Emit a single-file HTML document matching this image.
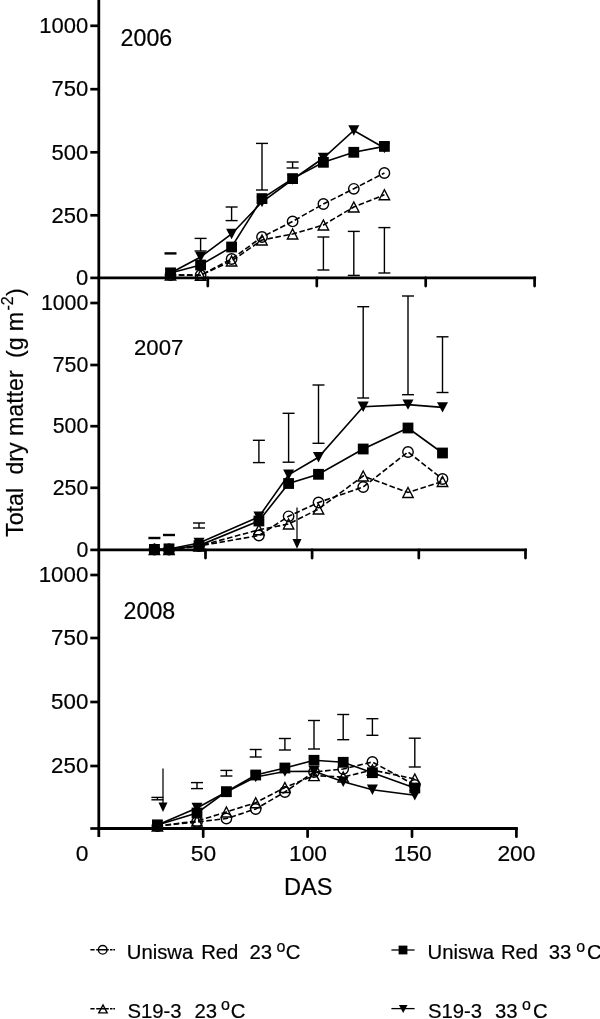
<!DOCTYPE html>
<html lang="en">
<head>
<meta charset="utf-8">
<title>Total dry matter vs DAS</title>
<style>
html,body{margin:0;padding:0;background:#fff;}
body{width:600px;height:1019px;overflow:hidden;}
svg{display:block;}
svg text{font-family:"Liberation Sans", Arial, Helvetica, sans-serif;fill:#000;stroke:#000;stroke-width:0.2px;}
</style>
</head>
<body>
<svg width="600" height="1019" viewBox="0 0 600 1019">
<rect x="0" y="0" width="600" height="1019" fill="#fff"/>
<line x1="98.8" y1="0.0" x2="98.8" y2="837.0" stroke="#000" stroke-width="2.8" />
<line x1="97.8" y1="277.9" x2="536.1" y2="277.9" stroke="#000" stroke-width="2.8" />
<line x1="207.8" y1="277.9" x2="207.8" y2="286.1" stroke="#000" stroke-width="2.7" stroke-linecap="round"/>
<line x1="316.8" y1="277.9" x2="316.8" y2="286.1" stroke="#000" stroke-width="2.7" stroke-linecap="round"/>
<line x1="425.7" y1="277.9" x2="425.7" y2="286.1" stroke="#000" stroke-width="2.7" stroke-linecap="round"/>
<line x1="534.6" y1="277.9" x2="534.6" y2="286.1" stroke="#000" stroke-width="2.7" stroke-linecap="round"/>
<line x1="90.3" y1="25.8" x2="98.8" y2="25.8" stroke="#000" stroke-width="2.7" />
<text x="88.3" y="33.0" font-size="22.0" text-anchor="end" >1000</text>
<line x1="90.3" y1="89.2" x2="98.8" y2="89.2" stroke="#000" stroke-width="2.7" />
<text x="88.3" y="96.4" font-size="22.0" text-anchor="end" >750</text>
<line x1="90.3" y1="152.3" x2="98.8" y2="152.3" stroke="#000" stroke-width="2.7" />
<text x="88.3" y="159.5" font-size="22.0" text-anchor="end" >500</text>
<line x1="90.3" y1="215.3" x2="98.8" y2="215.3" stroke="#000" stroke-width="2.7" />
<text x="88.3" y="222.5" font-size="22.0" text-anchor="end" >250</text>
<line x1="90.3" y1="277.9" x2="98.8" y2="277.9" stroke="#000" stroke-width="2.7" />
<text x="88.3" y="285.1" font-size="22.0" text-anchor="end" >0</text>
<line x1="97.8" y1="549.9" x2="526.9" y2="549.9" stroke="#000" stroke-width="2.8" />
<line x1="205.5" y1="549.9" x2="205.5" y2="558.1" stroke="#000" stroke-width="2.7" stroke-linecap="round"/>
<line x1="312.1" y1="549.9" x2="312.1" y2="558.1" stroke="#000" stroke-width="2.7" stroke-linecap="round"/>
<line x1="418.8" y1="549.9" x2="418.8" y2="558.1" stroke="#000" stroke-width="2.7" stroke-linecap="round"/>
<line x1="525.5" y1="549.9" x2="525.5" y2="558.1" stroke="#000" stroke-width="2.7" stroke-linecap="round"/>
<line x1="90.3" y1="303.0" x2="98.8" y2="303.0" stroke="#000" stroke-width="2.7" />
<text x="88.3" y="309.9" font-size="21.3" text-anchor="end" >1000</text>
<line x1="90.3" y1="365.0" x2="98.8" y2="365.0" stroke="#000" stroke-width="2.7" />
<text x="88.3" y="371.9" font-size="21.3" text-anchor="end" >750</text>
<line x1="90.3" y1="426.2" x2="98.8" y2="426.2" stroke="#000" stroke-width="2.7" />
<text x="88.3" y="433.1" font-size="21.3" text-anchor="end" >500</text>
<line x1="90.3" y1="487.8" x2="98.8" y2="487.8" stroke="#000" stroke-width="2.7" />
<text x="88.3" y="494.7" font-size="21.3" text-anchor="end" >250</text>
<line x1="90.3" y1="549.9" x2="98.8" y2="549.9" stroke="#000" stroke-width="2.7" />
<text x="88.3" y="556.8" font-size="21.3" text-anchor="end" >0</text>
<line x1="97.8" y1="828.5" x2="517.8" y2="828.5" stroke="#000" stroke-width="2.8" />
<line x1="203.2" y1="828.5" x2="203.2" y2="836.7" stroke="#000" stroke-width="2.7" stroke-linecap="round"/>
<line x1="307.6" y1="828.5" x2="307.6" y2="836.7" stroke="#000" stroke-width="2.7" stroke-linecap="round"/>
<line x1="412.0" y1="828.5" x2="412.0" y2="836.7" stroke="#000" stroke-width="2.7" stroke-linecap="round"/>
<line x1="516.4" y1="828.5" x2="516.4" y2="836.7" stroke="#000" stroke-width="2.7" stroke-linecap="round"/>
<line x1="90.3" y1="575.0" x2="98.8" y2="575.0" stroke="#000" stroke-width="2.7" />
<text x="88.3" y="582.3" font-size="22.3" text-anchor="end" >1000</text>
<line x1="90.3" y1="638.0" x2="98.8" y2="638.0" stroke="#000" stroke-width="2.7" />
<text x="88.3" y="645.3" font-size="22.3" text-anchor="end" >750</text>
<line x1="90.3" y1="702.0" x2="98.8" y2="702.0" stroke="#000" stroke-width="2.7" />
<text x="88.3" y="709.3" font-size="22.3" text-anchor="end" >500</text>
<line x1="90.3" y1="766.0" x2="98.8" y2="766.0" stroke="#000" stroke-width="2.7" />
<text x="88.3" y="773.3" font-size="22.3" text-anchor="end" >250</text>
<line x1="90.3" y1="828.5" x2="98.8" y2="828.5" stroke="#000" stroke-width="2.7" />
<text x="82.0" y="860.9" font-size="22.8" text-anchor="middle" >0</text>
<text x="203.4" y="860.9" font-size="22.8" text-anchor="middle" >50</text>
<text x="308.0" y="860.9" font-size="22.8" text-anchor="middle" >100</text>
<text x="412.8" y="860.9" font-size="22.8" text-anchor="middle" >150</text>
<text x="516.4" y="860.9" font-size="22.8" text-anchor="middle" >200</text>
<text x="308.2" y="895.2" font-size="23.6" text-anchor="middle" >DAS</text>
<text x="120.6" y="46.4" font-size="23.2" text-anchor="start" >2006</text>
<text x="134.0" y="355.0" font-size="22.2" text-anchor="start" >2007</text>
<text x="123.6" y="619.4" font-size="23.2" text-anchor="start" >2008</text>
<g transform="translate(22.5,536.4) rotate(-90)" font-size="23.2">
<text x="-0.5" y="0">Total</text>
<text x="61.8" y="0">dry</text>
<text x="100.4" y="0">matter</text>
<text x="178.4" y="0">(g</text>
<text x="205.2" y="0">m</text>
<text x="225.9" y="-9.8" font-size="16">-2</text>
<text x="240.5" y="0">)</text>
</g>
<line x1="164.5" y1="253.4" x2="176.5" y2="253.4" stroke="#000" stroke-width="2.4" />
<line x1="200.6" y1="238.4" x2="200.6" y2="251.0" stroke="#000" stroke-width="1.4" />
<line x1="194.6" y1="238.4" x2="206.6" y2="238.4" stroke="#000" stroke-width="1.4" />
<line x1="194.6" y1="251.0" x2="206.6" y2="251.0" stroke="#000" stroke-width="1.4" />
<line x1="231.6" y1="207.0" x2="231.6" y2="220.6" stroke="#000" stroke-width="1.4" />
<line x1="225.6" y1="207.0" x2="237.6" y2="207.0" stroke="#000" stroke-width="1.4" />
<line x1="225.6" y1="220.6" x2="237.6" y2="220.6" stroke="#000" stroke-width="1.4" />
<line x1="262.0" y1="143.4" x2="262.0" y2="190.0" stroke="#000" stroke-width="1.4" />
<line x1="256.0" y1="143.4" x2="268.0" y2="143.4" stroke="#000" stroke-width="1.4" />
<line x1="256.0" y1="190.0" x2="268.0" y2="190.0" stroke="#000" stroke-width="1.4" />
<line x1="292.6" y1="162.0" x2="292.6" y2="168.0" stroke="#000" stroke-width="1.4" />
<line x1="286.6" y1="162.0" x2="298.6" y2="162.0" stroke="#000" stroke-width="1.4" />
<line x1="286.6" y1="168.0" x2="298.6" y2="168.0" stroke="#000" stroke-width="1.4" />
<line x1="323.4" y1="237.0" x2="323.4" y2="270.0" stroke="#000" stroke-width="1.4" />
<line x1="317.4" y1="237.0" x2="329.4" y2="237.0" stroke="#000" stroke-width="1.4" />
<line x1="317.4" y1="270.0" x2="329.4" y2="270.0" stroke="#000" stroke-width="1.4" />
<line x1="353.8" y1="231.4" x2="353.8" y2="275.4" stroke="#000" stroke-width="1.4" />
<line x1="347.8" y1="231.4" x2="359.8" y2="231.4" stroke="#000" stroke-width="1.4" />
<line x1="347.8" y1="275.4" x2="359.8" y2="275.4" stroke="#000" stroke-width="1.4" />
<line x1="384.4" y1="227.6" x2="384.4" y2="273.0" stroke="#000" stroke-width="1.4" />
<line x1="378.4" y1="227.6" x2="390.4" y2="227.6" stroke="#000" stroke-width="1.4" />
<line x1="378.4" y1="273.0" x2="390.4" y2="273.0" stroke="#000" stroke-width="1.4" />
<polyline points="170.5,275.0 200.6,275.2 231.6,259.0 262.0,237.0 292.6,221.4 323.4,204.0 353.8,188.8 384.4,173.0" fill="none" stroke="#000" stroke-width="1.6" stroke-dasharray="5.6 2.6"/>
<polyline points="170.5,275.0 200.6,275.2 231.6,261.0 262.0,240.0 292.6,234.0 323.4,225.0 353.8,207.0 384.4,194.8" fill="none" stroke="#000" stroke-width="1.6" stroke-dasharray="5.6 2.6"/>
<polyline points="170.5,273.0 200.6,257.0 231.6,234.0 262.0,202.0 292.6,179.5 323.4,158.0 353.8,130.5 384.4,148.0" fill="none" stroke="#000" stroke-width="1.6" />
<polyline points="170.5,273.0 200.6,265.0 231.6,247.0 262.0,198.6 292.6,178.6 323.4,162.3 353.8,152.3 384.4,146.4" fill="none" stroke="#000" stroke-width="1.6" />
<circle cx="170.5" cy="275.0" r="5.2" fill="none" stroke="#000" stroke-width="1.4"/>
<circle cx="200.6" cy="275.2" r="5.2" fill="none" stroke="#000" stroke-width="1.4"/>
<circle cx="231.6" cy="259.0" r="5.2" fill="none" stroke="#000" stroke-width="1.4"/>
<circle cx="262.0" cy="237.0" r="5.2" fill="none" stroke="#000" stroke-width="1.4"/>
<circle cx="292.6" cy="221.4" r="5.2" fill="none" stroke="#000" stroke-width="1.4"/>
<circle cx="323.4" cy="204.0" r="5.2" fill="none" stroke="#000" stroke-width="1.4"/>
<circle cx="353.8" cy="188.8" r="5.2" fill="none" stroke="#000" stroke-width="1.4"/>
<circle cx="384.4" cy="173.0" r="5.2" fill="none" stroke="#000" stroke-width="1.4"/>
<polygon points="165.3,280.0 175.7,280.0 170.5,270.0" fill="none" stroke="#000" stroke-width="1.4" stroke-linejoin="miter"/>
<polygon points="195.4,280.2 205.8,280.2 200.6,270.2" fill="none" stroke="#000" stroke-width="1.4" stroke-linejoin="miter"/>
<polygon points="226.4,266.0 236.8,266.0 231.6,256.0" fill="none" stroke="#000" stroke-width="1.4" stroke-linejoin="miter"/>
<polygon points="256.8,245.0 267.2,245.0 262.0,235.0" fill="none" stroke="#000" stroke-width="1.4" stroke-linejoin="miter"/>
<polygon points="287.4,239.0 297.8,239.0 292.6,229.0" fill="none" stroke="#000" stroke-width="1.4" stroke-linejoin="miter"/>
<polygon points="318.2,230.0 328.6,230.0 323.4,220.0" fill="none" stroke="#000" stroke-width="1.4" stroke-linejoin="miter"/>
<polygon points="348.6,212.0 359.0,212.0 353.8,202.0" fill="none" stroke="#000" stroke-width="1.4" stroke-linejoin="miter"/>
<polygon points="379.2,199.8 389.6,199.8 384.4,189.8" fill="none" stroke="#000" stroke-width="1.4" stroke-linejoin="miter"/>
<polygon points="165.0,267.8 176.0,267.8 170.5,278.2" fill="#000"/>
<polygon points="195.1,251.8 206.1,251.8 200.6,262.2" fill="#000"/>
<polygon points="226.1,228.8 237.1,228.8 231.6,239.2" fill="#000"/>
<polygon points="256.5,196.8 267.5,196.8 262.0,207.2" fill="#000"/>
<polygon points="287.1,174.3 298.1,174.3 292.6,184.7" fill="#000"/>
<polygon points="317.9,152.8 328.9,152.8 323.4,163.2" fill="#000"/>
<polygon points="348.3,125.3 359.3,125.3 353.8,135.7" fill="#000"/>
<polygon points="378.9,142.8 389.9,142.8 384.4,153.2" fill="#000"/>
<rect x="165.1" y="267.6" width="10.8" height="10.8" fill="#000"/>
<rect x="195.2" y="259.6" width="10.8" height="10.8" fill="#000"/>
<rect x="226.2" y="241.6" width="10.8" height="10.8" fill="#000"/>
<rect x="256.6" y="193.2" width="10.8" height="10.8" fill="#000"/>
<rect x="287.2" y="173.2" width="10.8" height="10.8" fill="#000"/>
<rect x="318.0" y="156.9" width="10.8" height="10.8" fill="#000"/>
<rect x="348.4" y="146.9" width="10.8" height="10.8" fill="#000"/>
<rect x="379.0" y="141.0" width="10.8" height="10.8" fill="#000"/>
<line x1="148.4" y1="538.0" x2="160.4" y2="538.0" stroke="#000" stroke-width="2.4" />
<line x1="163.0" y1="535.0" x2="175.0" y2="535.0" stroke="#000" stroke-width="2.4" />
<line x1="199.0" y1="523.0" x2="199.0" y2="528.0" stroke="#000" stroke-width="1.4" />
<line x1="193.0" y1="523.0" x2="205.0" y2="523.0" stroke="#000" stroke-width="1.4" />
<line x1="193.0" y1="528.0" x2="205.0" y2="528.0" stroke="#000" stroke-width="1.4" />
<line x1="258.9" y1="440.3" x2="258.9" y2="462.6" stroke="#000" stroke-width="1.4" />
<line x1="252.9" y1="440.3" x2="264.9" y2="440.3" stroke="#000" stroke-width="1.4" />
<line x1="252.9" y1="462.6" x2="264.9" y2="462.6" stroke="#000" stroke-width="1.4" />
<line x1="288.6" y1="413.3" x2="288.6" y2="462.2" stroke="#000" stroke-width="1.4" />
<line x1="282.6" y1="413.3" x2="294.6" y2="413.3" stroke="#000" stroke-width="1.4" />
<line x1="282.6" y1="462.2" x2="294.6" y2="462.2" stroke="#000" stroke-width="1.4" />
<line x1="318.5" y1="385.0" x2="318.5" y2="443.3" stroke="#000" stroke-width="1.4" />
<line x1="312.5" y1="385.0" x2="324.5" y2="385.0" stroke="#000" stroke-width="1.4" />
<line x1="312.5" y1="443.3" x2="324.5" y2="443.3" stroke="#000" stroke-width="1.4" />
<line x1="363.2" y1="306.7" x2="363.2" y2="398.0" stroke="#000" stroke-width="1.4" />
<line x1="357.2" y1="306.7" x2="369.2" y2="306.7" stroke="#000" stroke-width="1.4" />
<line x1="357.2" y1="398.0" x2="369.2" y2="398.0" stroke="#000" stroke-width="1.4" />
<line x1="408.0" y1="296.0" x2="408.0" y2="394.7" stroke="#000" stroke-width="1.4" />
<line x1="402.0" y1="296.0" x2="414.0" y2="296.0" stroke="#000" stroke-width="1.4" />
<line x1="402.0" y1="394.7" x2="414.0" y2="394.7" stroke="#000" stroke-width="1.4" />
<line x1="442.5" y1="336.8" x2="442.5" y2="392.5" stroke="#000" stroke-width="1.4" />
<line x1="436.5" y1="336.8" x2="448.5" y2="336.8" stroke="#000" stroke-width="1.4" />
<line x1="436.5" y1="392.5" x2="448.5" y2="392.5" stroke="#000" stroke-width="1.4" />
<polyline points="154.4,549.5 169.0,549.5 199.0,546.0 258.9,535.5 288.6,516.3 318.5,502.5 363.2,487.0 408.0,452.0 442.5,479.0" fill="none" stroke="#000" stroke-width="1.6" stroke-dasharray="5.6 2.6"/>
<polyline points="154.4,549.5 169.0,549.5 199.0,546.0 258.9,529.8 288.6,524.0 318.5,509.0 363.2,476.0 408.0,492.5 442.5,481.5" fill="none" stroke="#000" stroke-width="1.6" stroke-dasharray="5.6 2.6"/>
<polyline points="154.4,549.4 169.0,549.0 199.0,543.0 258.9,516.8 288.6,474.8 318.5,457.3 363.2,406.7 408.0,404.6 442.5,407.4" fill="none" stroke="#000" stroke-width="1.6" />
<polyline points="154.4,549.4 169.0,549.0 199.0,545.6 258.9,521.0 288.6,483.5 318.5,474.3 363.2,449.0 408.0,428.0 442.5,453.0" fill="none" stroke="#000" stroke-width="1.6" />
<circle cx="154.4" cy="549.5" r="5.2" fill="none" stroke="#000" stroke-width="1.4"/>
<circle cx="169.0" cy="549.5" r="5.2" fill="none" stroke="#000" stroke-width="1.4"/>
<circle cx="199.0" cy="546.0" r="5.2" fill="none" stroke="#000" stroke-width="1.4"/>
<circle cx="258.9" cy="535.5" r="5.2" fill="none" stroke="#000" stroke-width="1.4"/>
<circle cx="288.6" cy="516.3" r="5.2" fill="none" stroke="#000" stroke-width="1.4"/>
<circle cx="318.5" cy="502.5" r="5.2" fill="none" stroke="#000" stroke-width="1.4"/>
<circle cx="363.2" cy="487.0" r="5.2" fill="none" stroke="#000" stroke-width="1.4"/>
<circle cx="408.0" cy="452.0" r="5.2" fill="none" stroke="#000" stroke-width="1.4"/>
<circle cx="442.5" cy="479.0" r="5.2" fill="none" stroke="#000" stroke-width="1.4"/>
<polygon points="149.2,554.5 159.6,554.5 154.4,544.5" fill="none" stroke="#000" stroke-width="1.4" stroke-linejoin="miter"/>
<polygon points="163.8,554.5 174.2,554.5 169.0,544.5" fill="none" stroke="#000" stroke-width="1.4" stroke-linejoin="miter"/>
<polygon points="193.8,551.0 204.2,551.0 199.0,541.0" fill="none" stroke="#000" stroke-width="1.4" stroke-linejoin="miter"/>
<polygon points="253.7,534.8 264.1,534.8 258.9,524.8" fill="none" stroke="#000" stroke-width="1.4" stroke-linejoin="miter"/>
<polygon points="283.4,529.0 293.8,529.0 288.6,519.0" fill="none" stroke="#000" stroke-width="1.4" stroke-linejoin="miter"/>
<polygon points="313.3,514.0 323.7,514.0 318.5,504.0" fill="none" stroke="#000" stroke-width="1.4" stroke-linejoin="miter"/>
<polygon points="358.0,481.0 368.4,481.0 363.2,471.0" fill="none" stroke="#000" stroke-width="1.4" stroke-linejoin="miter"/>
<polygon points="402.8,497.5 413.2,497.5 408.0,487.5" fill="none" stroke="#000" stroke-width="1.4" stroke-linejoin="miter"/>
<polygon points="437.3,486.5 447.7,486.5 442.5,476.5" fill="none" stroke="#000" stroke-width="1.4" stroke-linejoin="miter"/>
<polygon points="148.9,544.2 159.9,544.2 154.4,554.6" fill="#000"/>
<polygon points="163.5,543.8 174.5,543.8 169.0,554.2" fill="#000"/>
<polygon points="193.5,537.8 204.5,537.8 199.0,548.2" fill="#000"/>
<polygon points="253.4,511.6 264.4,511.6 258.9,522.0" fill="#000"/>
<polygon points="283.1,469.6 294.1,469.6 288.6,480.0" fill="#000"/>
<polygon points="313.0,452.1 324.0,452.1 318.5,462.5" fill="#000"/>
<polygon points="357.7,401.5 368.7,401.5 363.2,411.9" fill="#000"/>
<polygon points="402.5,399.4 413.5,399.4 408.0,409.8" fill="#000"/>
<polygon points="437.0,402.2 448.0,402.2 442.5,412.6" fill="#000"/>
<rect x="149.0" y="544.0" width="10.8" height="10.8" fill="#000"/>
<rect x="163.6" y="543.6" width="10.8" height="10.8" fill="#000"/>
<rect x="193.6" y="540.2" width="10.8" height="10.8" fill="#000"/>
<rect x="253.5" y="515.6" width="10.8" height="10.8" fill="#000"/>
<rect x="283.2" y="478.1" width="10.8" height="10.8" fill="#000"/>
<rect x="313.1" y="468.9" width="10.8" height="10.8" fill="#000"/>
<rect x="357.8" y="443.6" width="10.8" height="10.8" fill="#000"/>
<rect x="402.6" y="422.6" width="10.8" height="10.8" fill="#000"/>
<rect x="437.1" y="447.6" width="10.8" height="10.8" fill="#000"/>
<line x1="157.4" y1="797.4" x2="157.4" y2="799.8" stroke="#000" stroke-width="1.4" />
<line x1="151.4" y1="797.4" x2="163.4" y2="797.4" stroke="#000" stroke-width="1.4" />
<line x1="151.4" y1="799.8" x2="163.4" y2="799.8" stroke="#000" stroke-width="1.4" />
<line x1="197.0" y1="782.6" x2="197.0" y2="788.6" stroke="#000" stroke-width="1.4" />
<line x1="191.0" y1="782.6" x2="203.0" y2="782.6" stroke="#000" stroke-width="1.4" />
<line x1="191.0" y1="788.6" x2="203.0" y2="788.6" stroke="#000" stroke-width="1.4" />
<line x1="226.4" y1="770.4" x2="226.4" y2="776.0" stroke="#000" stroke-width="1.4" />
<line x1="220.4" y1="770.4" x2="232.4" y2="770.4" stroke="#000" stroke-width="1.4" />
<line x1="220.4" y1="776.0" x2="232.4" y2="776.0" stroke="#000" stroke-width="1.4" />
<line x1="255.7" y1="749.5" x2="255.7" y2="757.0" stroke="#000" stroke-width="1.4" />
<line x1="249.7" y1="749.5" x2="261.7" y2="749.5" stroke="#000" stroke-width="1.4" />
<line x1="249.7" y1="757.0" x2="261.7" y2="757.0" stroke="#000" stroke-width="1.4" />
<line x1="284.9" y1="738.5" x2="284.9" y2="750.0" stroke="#000" stroke-width="1.4" />
<line x1="278.9" y1="738.5" x2="290.9" y2="738.5" stroke="#000" stroke-width="1.4" />
<line x1="278.9" y1="750.0" x2="290.9" y2="750.0" stroke="#000" stroke-width="1.4" />
<line x1="314.0" y1="720.5" x2="314.0" y2="749.0" stroke="#000" stroke-width="1.4" />
<line x1="308.0" y1="720.5" x2="320.0" y2="720.5" stroke="#000" stroke-width="1.4" />
<line x1="308.0" y1="749.0" x2="320.0" y2="749.0" stroke="#000" stroke-width="1.4" />
<line x1="343.2" y1="714.5" x2="343.2" y2="739.7" stroke="#000" stroke-width="1.4" />
<line x1="337.2" y1="714.5" x2="349.2" y2="714.5" stroke="#000" stroke-width="1.4" />
<line x1="337.2" y1="739.7" x2="349.2" y2="739.7" stroke="#000" stroke-width="1.4" />
<line x1="372.4" y1="718.7" x2="372.4" y2="735.3" stroke="#000" stroke-width="1.4" />
<line x1="366.4" y1="718.7" x2="378.4" y2="718.7" stroke="#000" stroke-width="1.4" />
<line x1="366.4" y1="735.3" x2="378.4" y2="735.3" stroke="#000" stroke-width="1.4" />
<line x1="414.8" y1="738.2" x2="414.8" y2="767.0" stroke="#000" stroke-width="1.4" />
<line x1="408.8" y1="738.2" x2="420.8" y2="738.2" stroke="#000" stroke-width="1.4" />
<line x1="408.8" y1="767.0" x2="420.8" y2="767.0" stroke="#000" stroke-width="1.4" />
<polyline points="157.4,826.0 197.0,822.0 226.4,818.5 255.7,809.0 284.9,792.0 314.0,772.0 343.2,769.0 372.4,762.0 414.8,785.0" fill="none" stroke="#000" stroke-width="1.6" stroke-dasharray="5.6 2.6"/>
<polyline points="157.4,826.0 197.0,821.0 226.4,812.0 255.7,802.7 284.9,787.5 314.0,775.6 343.2,777.0 372.4,770.0 414.8,779.0" fill="none" stroke="#000" stroke-width="1.6" stroke-dasharray="5.6 2.6"/>
<polyline points="157.4,825.0 197.0,808.0 226.4,792.0 255.7,777.0 284.9,771.5 314.0,771.3 343.2,781.7 372.4,789.8 414.8,795.2" fill="none" stroke="#000" stroke-width="1.6" />
<polyline points="157.4,825.0 197.0,813.0 226.4,791.7 255.7,775.0 284.9,768.0 314.0,760.3 343.2,762.3 372.4,772.7 414.8,788.0" fill="none" stroke="#000" stroke-width="1.6" />
<circle cx="157.4" cy="826.0" r="5.2" fill="none" stroke="#000" stroke-width="1.4"/>
<circle cx="197.0" cy="822.0" r="5.2" fill="none" stroke="#000" stroke-width="1.4"/>
<circle cx="226.4" cy="818.5" r="5.2" fill="none" stroke="#000" stroke-width="1.4"/>
<circle cx="255.7" cy="809.0" r="5.2" fill="none" stroke="#000" stroke-width="1.4"/>
<circle cx="284.9" cy="792.0" r="5.2" fill="none" stroke="#000" stroke-width="1.4"/>
<circle cx="314.0" cy="772.0" r="5.2" fill="none" stroke="#000" stroke-width="1.4"/>
<circle cx="343.2" cy="769.0" r="5.2" fill="none" stroke="#000" stroke-width="1.4"/>
<circle cx="372.4" cy="762.0" r="5.2" fill="none" stroke="#000" stroke-width="1.4"/>
<circle cx="414.8" cy="785.0" r="5.2" fill="none" stroke="#000" stroke-width="1.4"/>
<polygon points="152.2,831.0 162.6,831.0 157.4,821.0" fill="none" stroke="#000" stroke-width="1.4" stroke-linejoin="miter"/>
<polygon points="191.8,826.0 202.2,826.0 197.0,816.0" fill="none" stroke="#000" stroke-width="1.4" stroke-linejoin="miter"/>
<polygon points="221.2,817.0 231.6,817.0 226.4,807.0" fill="none" stroke="#000" stroke-width="1.4" stroke-linejoin="miter"/>
<polygon points="250.5,807.7 260.9,807.7 255.7,797.7" fill="none" stroke="#000" stroke-width="1.4" stroke-linejoin="miter"/>
<polygon points="279.7,792.5 290.1,792.5 284.9,782.5" fill="none" stroke="#000" stroke-width="1.4" stroke-linejoin="miter"/>
<polygon points="308.8,780.6 319.2,780.6 314.0,770.6" fill="none" stroke="#000" stroke-width="1.4" stroke-linejoin="miter"/>
<polygon points="338.0,782.0 348.4,782.0 343.2,772.0" fill="none" stroke="#000" stroke-width="1.4" stroke-linejoin="miter"/>
<polygon points="367.2,775.0 377.6,775.0 372.4,765.0" fill="none" stroke="#000" stroke-width="1.4" stroke-linejoin="miter"/>
<polygon points="409.6,784.0 420.0,784.0 414.8,774.0" fill="none" stroke="#000" stroke-width="1.4" stroke-linejoin="miter"/>
<polygon points="151.9,819.8 162.9,819.8 157.4,830.2" fill="#000"/>
<polygon points="191.5,802.8 202.5,802.8 197.0,813.2" fill="#000"/>
<polygon points="220.9,786.8 231.9,786.8 226.4,797.2" fill="#000"/>
<polygon points="250.2,771.8 261.2,771.8 255.7,782.2" fill="#000"/>
<polygon points="279.4,766.3 290.4,766.3 284.9,776.7" fill="#000"/>
<polygon points="308.5,766.1 319.5,766.1 314.0,776.5" fill="#000"/>
<polygon points="337.7,776.5 348.7,776.5 343.2,786.9" fill="#000"/>
<polygon points="366.9,784.6 377.9,784.6 372.4,795.0" fill="#000"/>
<polygon points="409.3,790.0 420.3,790.0 414.8,800.4" fill="#000"/>
<rect x="152.0" y="819.6" width="10.8" height="10.8" fill="#000"/>
<rect x="191.6" y="807.6" width="10.8" height="10.8" fill="#000"/>
<rect x="221.0" y="786.3" width="10.8" height="10.8" fill="#000"/>
<rect x="250.3" y="769.6" width="10.8" height="10.8" fill="#000"/>
<rect x="279.5" y="762.6" width="10.8" height="10.8" fill="#000"/>
<rect x="308.6" y="754.9" width="10.8" height="10.8" fill="#000"/>
<rect x="337.8" y="756.9" width="10.8" height="10.8" fill="#000"/>
<rect x="367.0" y="767.3" width="10.8" height="10.8" fill="#000"/>
<rect x="409.4" y="782.6" width="10.8" height="10.8" fill="#000"/>
<line x1="297.0" y1="507.5" x2="297.0" y2="540.1" stroke="#000" stroke-width="1.25" />
<polygon points="292.5,539.1 301.5,539.1 297.0,548.7" fill="#000"/>
<line x1="163.0" y1="768.6" x2="163.0" y2="803.4" stroke="#000" stroke-width="1.25" />
<polygon points="158.5,802.4 167.5,802.4 163.0,812.0" fill="#000"/>
<line x1="90.4" y1="949.8" x2="115.0" y2="949.8" stroke="#000" stroke-width="1.4" stroke-dasharray="4.2 1.6 12.6 1.2 2.5 0.8 1.7 0"/>
<circle cx="102.7" cy="949.8" r="4.3" fill="none" stroke="#000" stroke-width="1.4"/>
<text x="126.8" y="959.1" font-size="20.3" text-anchor="start" >Uniswa</text>
<text x="201.2" y="959.1" font-size="20.3" text-anchor="start" >Red</text>
<text x="249.4" y="959.1" font-size="20.3" text-anchor="start" >23</text>
<text x="276.6" y="951.5" font-size="16.0" text-anchor="start" >o</text>
<text x="285.7" y="959.1" font-size="20.3" text-anchor="start" >C</text>
<line x1="90.4" y1="1008.8" x2="115.0" y2="1008.8" stroke="#000" stroke-width="1.4" stroke-dasharray="4.2 1.6 12.6 1.2 2.5 0.8 1.7 0"/>
<polygon points="98.8,1012.9 107.2,1012.9 103.0,1004.9" fill="none" stroke="#000" stroke-width="1.4" stroke-linejoin="miter"/>
<text x="127.4" y="1018.0" font-size="20.3" text-anchor="start" >S19-3</text>
<text x="194.4" y="1018.0" font-size="20.3" text-anchor="start" >23</text>
<text x="221.0" y="1010.4" font-size="16.0" text-anchor="start" >o</text>
<text x="230.7" y="1018.0" font-size="20.3" text-anchor="start" >C</text>
<line x1="391.4" y1="950.0" x2="414.6" y2="950.0" stroke="#000" stroke-width="1.3" />
<rect x="398.6" y="945.6" width="8.8" height="8.8" fill="#000"/>
<text x="427.5" y="959.1" font-size="20.3" text-anchor="start" >Uniswa</text>
<text x="500.9" y="959.1" font-size="20.3" text-anchor="start" >Red</text>
<text x="548.8" y="959.1" font-size="20.3" text-anchor="start" >33</text>
<text x="576.3" y="951.5" font-size="16.0" text-anchor="start" >o</text>
<text x="587.0" y="959.1" font-size="20.3" text-anchor="start" >C</text>
<line x1="391.4" y1="1008.6" x2="414.6" y2="1008.6" stroke="#000" stroke-width="1.3" />
<polygon points="398.9,1005.0 407.5,1005.0 403.2,1013.0" fill="#000"/>
<text x="428.0" y="1018.0" font-size="20.3" text-anchor="start" >S19-3</text>
<text x="495.0" y="1018.0" font-size="20.3" text-anchor="start" >33</text>
<text x="522.0" y="1010.4" font-size="16.0" text-anchor="start" >o</text>
<text x="532.9" y="1018.0" font-size="20.3" text-anchor="start" >C</text>
</svg>
</body>
</html>
